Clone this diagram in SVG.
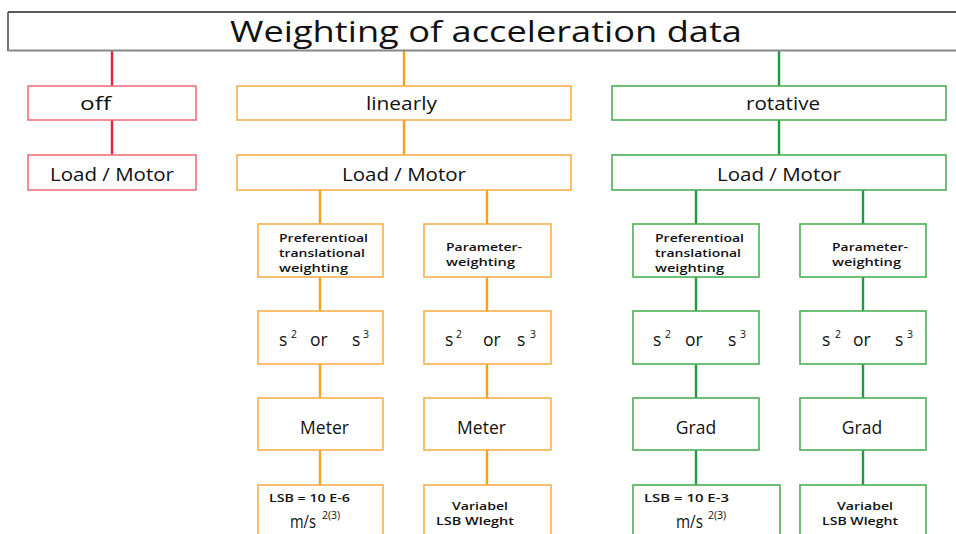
<svg xmlns="http://www.w3.org/2000/svg" width="956" height="534" viewBox="0 0 956 534">
<style>
text{font-family:"Open Sans","Liberation Sans",sans-serif;fill:#111}
.t{font-size:29px}
.m{font-size:17.5px;font-weight:500}
.s{font-size:11.5px;font-weight:600}
.sup{font-size:10.5px;font-weight:500}
.r{fill:#fff;stroke:#f07080;stroke-width:1.6}
.o{fill:#fff;stroke:#f8b04c;stroke-width:1.6}
.g{fill:#fff;stroke:#4caf55;stroke-width:1.6}
.lr{stroke:#e8203a;stroke-width:2.4}
.lo{stroke:#f5a01a;stroke-width:2.4}
.lg{stroke:#1f9a3c;stroke-width:2.4}
</style>
<rect width="956" height="534" fill="#fff"/>
<g id="connectors" fill="none">
<line class="lr" x1="112" y1="51" x2="112" y2="86"/>
<line class="lr" x1="112" y1="120" x2="112" y2="155"/>
<line class="lo" x1="404" y1="51" x2="404" y2="86"/>
<line class="lo" x1="404" y1="120" x2="404" y2="155"/>
<line class="lo" x1="320" y1="190" x2="320" y2="224"/>
<line class="lo" x1="487" y1="190" x2="487" y2="224"/>
<line class="lo" x1="320" y1="277" x2="320" y2="311"/>
<line class="lo" x1="487" y1="277" x2="487" y2="311"/>
<line class="lo" x1="320" y1="364" x2="320" y2="398"/>
<line class="lo" x1="487" y1="364" x2="487" y2="398"/>
<line class="lo" x1="320" y1="450" x2="320" y2="485"/>
<line class="lo" x1="487" y1="450" x2="487" y2="485"/>
<line class="lg" x1="779" y1="51" x2="779" y2="86"/>
<line class="lg" x1="779" y1="120" x2="779" y2="155"/>
<line class="lg" x1="696" y1="190" x2="696" y2="224"/>
<line class="lg" x1="863" y1="190" x2="863" y2="224"/>
<line class="lg" x1="696" y1="277" x2="696" y2="311"/>
<line class="lg" x1="863" y1="277" x2="863" y2="311"/>
<line class="lg" x1="696" y1="364" x2="696" y2="398"/>
<line class="lg" x1="863" y1="364" x2="863" y2="398"/>
<line class="lg" x1="696" y1="450" x2="696" y2="485"/>
<line class="lg" x1="863" y1="450" x2="863" y2="485"/>
</g>
<g id="title">
<rect x="8" y="12" width="960" height="38.5" fill="#fff" stroke="none"/>
<line x1="8" y1="12" x2="956" y2="12" stroke="#222" stroke-width="1.5"/>
<line x1="8" y1="12" x2="8" y2="51" stroke="#444" stroke-width="1.5"/>
<line x1="8" y1="50.5" x2="956" y2="50.5" stroke="#888" stroke-width="2.2"/>
<text class="t" x="486" y="42" text-anchor="middle" textLength="512" lengthAdjust="spacingAndGlyphs">Weighting of acceleration data</text>
</g>
<g id="off"><rect class="r" x="28" y="86" width="168" height="34"/><text class="m" x="80" y="110" textLength="31" lengthAdjust="spacingAndGlyphs">off</text></g>
<g id="off-load"><rect class="r" x="28" y="155" width="168" height="35"/><text class="m" x="112" y="181" text-anchor="middle" textLength="124" lengthAdjust="spacingAndGlyphs">Load / Motor</text></g>
<g id="linearly"><rect class="o" x="237" y="86" width="334" height="34"/><text class="m" x="366" y="110" textLength="71" lengthAdjust="spacingAndGlyphs">linearly</text></g>
<g id="lin-load"><rect class="o" x="237" y="155" width="334" height="35"/><text class="m" x="404" y="181" text-anchor="middle" textLength="124" lengthAdjust="spacingAndGlyphs">Load / Motor</text></g>
<g id="rotative"><rect class="g" x="612" y="86" width="334" height="34"/><text class="m" x="746" y="110" textLength="74" lengthAdjust="spacingAndGlyphs">rotative</text></g>
<g id="rot-load"><rect class="g" x="612" y="155" width="334" height="35"/><text class="m" x="779" y="181" text-anchor="middle" textLength="124" lengthAdjust="spacingAndGlyphs">Load / Motor</text></g>

<g id="lin-pref"><rect class="o" x="258" y="224" width="125" height="53"/>
<text class="s" x="279" y="242" textLength="89" lengthAdjust="spacingAndGlyphs">Preferentioal</text>
<text class="s" x="279" y="257" textLength="86" lengthAdjust="spacingAndGlyphs">translational</text>
<text class="s" x="279" y="272" textLength="69" lengthAdjust="spacingAndGlyphs">weighting</text></g>
<g id="lin-param"><rect class="o" x="424" y="224" width="127" height="53"/>
<text class="s" x="446" y="251" textLength="76" lengthAdjust="spacingAndGlyphs">Parameter-</text>
<text class="s" x="446" y="266" textLength="69" lengthAdjust="spacingAndGlyphs">weighting</text></g>
<g id="rot-pref"><rect class="g" x="633" y="224" width="126" height="53"/>
<text class="s" x="655" y="242" textLength="89" lengthAdjust="spacingAndGlyphs">Preferentioal</text>
<text class="s" x="655" y="257" textLength="86" lengthAdjust="spacingAndGlyphs">translational</text>
<text class="s" x="655" y="272" textLength="69" lengthAdjust="spacingAndGlyphs">weighting</text></g>
<g id="rot-param"><rect class="g" x="800" y="224" width="126" height="53"/>
<text class="s" x="832" y="251" textLength="76" lengthAdjust="spacingAndGlyphs">Parameter-</text>
<text class="s" x="832" y="266" textLength="69" lengthAdjust="spacingAndGlyphs">weighting</text></g>

<g id="lin-pref-s"><rect class="o" x="258" y="311" width="125" height="53"/>
<text class="m" x="279" y="346">s</text><text class="sup" x="291" y="338">2</text>
<text class="m" x="310" y="346">or</text>
<text class="m" x="352" y="346">s</text><text class="sup" x="363" y="338">3</text></g>
<g id="lin-param-s"><rect class="o" x="424" y="311" width="127" height="53"/>
<text class="m" x="445" y="346">s</text><text class="sup" x="456" y="338">2</text>
<text class="m" x="483" y="346">or</text>
<text class="m" x="517" y="346">s</text><text class="sup" x="530" y="338">3</text></g>
<g id="rot-pref-s"><rect class="g" x="633" y="311" width="126" height="53"/>
<text class="m" x="653" y="346">s</text><text class="sup" x="665" y="338">2</text>
<text class="m" x="685" y="346">or</text>
<text class="m" x="728" y="346">s</text><text class="sup" x="740" y="338">3</text></g>
<g id="rot-param-s"><rect class="g" x="800" y="311" width="126" height="53"/>
<text class="m" x="822" y="346">s</text><text class="sup" x="835" y="338">2</text>
<text class="m" x="853" y="346">or</text>
<text class="m" x="895" y="346">s</text><text class="sup" x="907" y="338">3</text></g>

<g id="lin-pref-unit"><rect class="o" x="258" y="398" width="125" height="52"/><text class="m" x="324.5" y="434" text-anchor="middle">Meter</text></g>
<g id="lin-param-unit"><rect class="o" x="424" y="398" width="127" height="52"/><text class="m" x="481.5" y="434" text-anchor="middle">Meter</text></g>
<g id="rot-pref-unit"><rect class="g" x="633" y="398" width="126" height="52"/><text class="m" x="696" y="434" text-anchor="middle">Grad</text></g>
<g id="rot-param-unit"><rect class="g" x="800" y="398" width="126" height="52"/><text class="m" x="862" y="434" text-anchor="middle">Grad</text></g>

<g id="lin-pref-lsb"><rect class="o" x="258" y="485" width="125" height="60"/>
<text class="s" x="269" y="502" textLength="81" lengthAdjust="spacingAndGlyphs">LSB = 10 E-6</text>
<text class="m" x="290" y="528" font-size="14" textLength="26" lengthAdjust="spacingAndGlyphs">m/s</text><text class="sup" x="322" y="519" font-size="9">2(3)</text></g>
<g id="lin-param-lsb"><rect class="o" x="424" y="485" width="127" height="60"/>
<text class="s" x="480" y="510" text-anchor="middle" textLength="56" lengthAdjust="spacingAndGlyphs">Variabel</text>
<text class="s" x="475" y="525" text-anchor="middle" textLength="78" lengthAdjust="spacingAndGlyphs">LSB Wleght</text></g>
<g id="rot-pref-lsb"><rect class="g" x="633" y="485" width="147" height="60"/>
<text class="s" x="644" y="502" textLength="85" lengthAdjust="spacingAndGlyphs">LSB = 10 E-3</text>
<text class="m" x="676" y="528" font-size="14" textLength="27" lengthAdjust="spacingAndGlyphs">m/s</text><text class="sup" x="708" y="519" font-size="9">2(3)</text></g>
<g id="rot-param-lsb"><rect class="g" x="800" y="485" width="126" height="60"/>
<text class="s" x="865" y="510" text-anchor="middle" textLength="56" lengthAdjust="spacingAndGlyphs">Variabel</text>
<text class="s" x="860" y="525" text-anchor="middle" textLength="76" lengthAdjust="spacingAndGlyphs">LSB Wleght</text></g>
</svg>
